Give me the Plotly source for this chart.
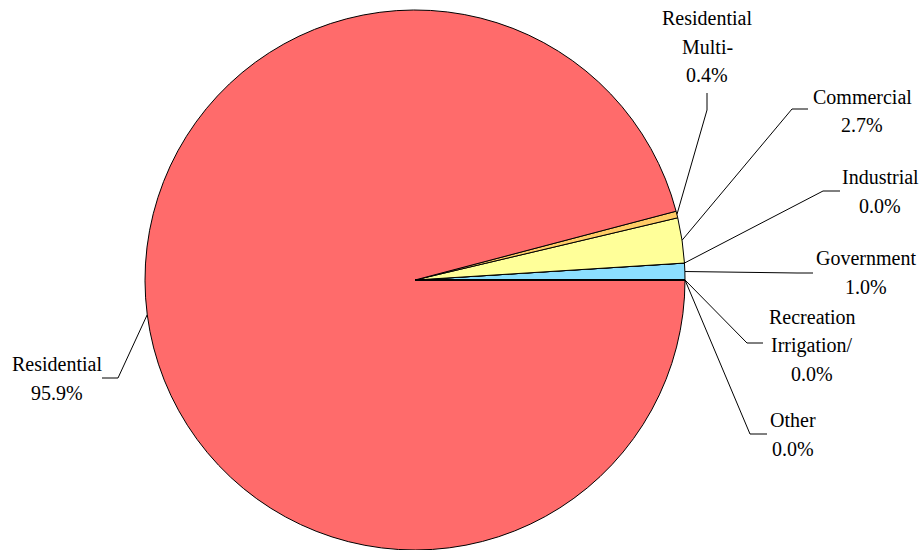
import math
import plotly.graph_objects as go

# Share of connections by customer class (percent)
categories = ["Government", "Industrial", "Commercial", "Residential Multi-",
              "Residential", "Irrigation/Recreation", "Other"]
shares = [1.0, 0.0, 2.7, 0.4, 95.9, 0.0, 0.0]
colors = ["#8CDFFF", "#C0C0C0", "#FFFF99", "#FFCC66", "#FF6B6B", "#CCCCCC", "#CCCCCC"]

# Text lines shown for each slice label (the percentage is appended below)
label_lines = [["Government"], ["Industrial"], ["Commercial"], ["Residential", "Multi-"],
               ["Residential"], ["Recreation", "Irrigation/"], ["Other"]]

W, H = 924, 550
CX, CY, R = 415, 280, 270          # pie centre and radius in pixels
FONT = "Liberation Serif, Times New Roman, serif"
FS = 20
LINE_GAP = 28.5

# label placement: text centre x, centre y of first line, leader elbow, leader end
label_pos = {
    "Government": (866, 258, (797, 273), (813, 273)),
    "Industrial": (880, 177, (823, 191), (840, 191)),
    "Commercial": (862, 97, (792, 109), (808, 109)),
    "Residential Multi-": (707, 18, (707, 110), (707, 93)),
    "Residential": (57, 364, (118, 378), (102, 378)),
    "Irrigation/Recreation": (812, 317, (747, 343), (763, 343)),
    "Other": (793, 420, (750, 434), (767, 434)),
}


def px(x):
    return x / W


def py(y):
    return 1 - y / H


total = sum(shares)
# plotly places the first counterclockwise slice ending at `rotation`;
# shift so the first slice starts exactly at 3 o'clock
start_rotation = 90 - shares[0] / total * 360

fig = go.Figure(go.Pie(
    labels=categories,
    values=shares,
    sort=False,
    direction="counterclockwise",
    rotation=start_rotation,
    marker=dict(colors=colors, line=dict(color="black", width=1)),
    textinfo="none",
    hoverinfo="label+percent",
    showlegend=False,
    domain=dict(x=[px(CX - R), px(CX + R)], y=[0, (2 * R) / H]),
))

annotations = []
shapes = []
cum = 0.0
for cat, val, lines in zip(categories, shares, label_lines):
    mid = (cum + val / 2) / total * 2 * math.pi
    cum += val
    sx = CX + R * math.cos(mid)
    sy = CY - R * math.sin(mid)
    cx, y0, elbow, end = label_pos[cat]
    shapes.append(dict(
        type="path", xref="paper", yref="paper",
        path=f"M {px(sx)} {py(sy)} L {px(elbow[0])} {py(elbow[1])} L {px(end[0])} {py(end[1])}",
        line=dict(color="black", width=1),
    ))
    texts = lines + [f"{val:.1f}%"]
    for i, t in enumerate(texts):
        annotations.append(dict(
            text=t, x=px(cx), y=py(y0 + i * LINE_GAP), xref="paper", yref="paper",
            xanchor="center", yanchor="middle", showarrow=False,
            font=dict(family=FONT, size=FS, color="black"),
        ))

fig.update_layout(
    width=W, height=H,
    margin=dict(l=0, r=0, t=0, b=0),
    paper_bgcolor="white",
    plot_bgcolor="white",
    annotations=annotations,
    shapes=shapes,
)

fig.write_html("out.html")
